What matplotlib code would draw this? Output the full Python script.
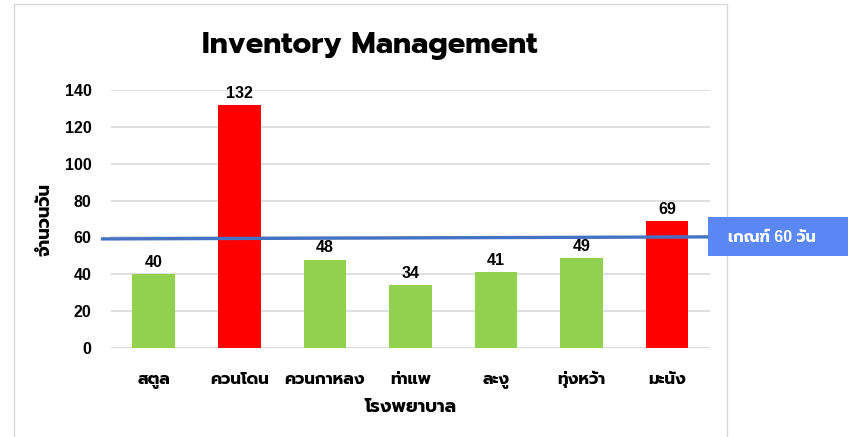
import matplotlib
matplotlib.use("Agg")
import matplotlib.pyplot as plt
from matplotlib.patches import Rectangle

# Liberation Sans for digits, Prompt picks up the Thai glyphs
plt.rcParams['font.family'] = ['Liberation Sans', 'Prompt']
plt.rcParams['font.weight'] = 'bold'

hospitals = ["สตูล", "ควนโดน", "ควนกาหลง", "ท่าแพ", "ละงู", "ทุ่งหว้า", "มะนัง"]
days = [40, 132, 48, 34, 41, 49, 69]
threshold = 60
threshold_line = [59.2, 60.3]  # the drawn line is a little tilted
threshold_label = "เกณฑ์ 60 วัน"

green = "#92D050"
red = "#FF0000"
colors = [red if d > threshold else green for d in days]

fig = plt.figure(figsize=(8.48, 4.37), dpi=100)
ax = fig.add_axes([0.131, 0.2037, 0.706, 0.5903])

# outer chart frame
fig.patches.append(Rectangle((14 / 848, -0.1), 713 / 848, 1.09, transform=fig.transFigure,
                             fill=False, edgecolor="#D9D9D9", linewidth=1))

x = range(len(hospitals))
bars = ax.bar(x, days, width=0.5, color=colors, zorder=2)
for b, d in zip(bars, days):
    ax.annotate(str(d), (b.get_x() + b.get_width() / 2, d), xytext=(0, 3),
                textcoords="offset points", ha="center", va="bottom",
                fontsize=11.5, fontweight="bold")

ax.plot([-0.6, 6.5], threshold_line, color="#4472C4", linewidth=2.4, zorder=3, clip_on=False)

ax.set_xlim(-0.5, 6.5)
ax.set_ylim(0, 140)
ax.set_yticks(range(0, 141, 20))
ax.set_xticks(list(x))
ax.set_xticklabels(hospitals)
ax.tick_params(axis="x", length=0, pad=26, labelsize=12)
for lbl in ax.get_xticklabels():
    lbl.set_verticalalignment("baseline")
ax.tick_params(axis="y", length=0, pad=14, labelsize=11.5)
ax.grid(axis="y", color="#D9D9D9", linewidth=1.2, zorder=0)
for s in ax.spines.values():
    s.set_visible(False)
ax.axhline(0, color="#D9D9D9", linewidth=1.2, zorder=1)

ax.set_ylabel("จำนวนวัน", fontsize=13, fontweight="bold")
ax.yaxis.set_label_coords(-0.097, 0.5)
ax.set_xlabel("โรงพยาบาล", fontsize=13, fontweight="bold")
ax.xaxis.set_label_coords(0.5, -0.198)
fig.text(370 / 848, 1 - 46 / 437, "Inventory Management", ha="center", va="center",
         fontsize=21, fontweight="bold", family="Prompt")

# threshold label box
fig.patches.append(Rectangle((708 / 848, 1 - 256 / 437), 145 / 848, 39 / 437,
                             transform=fig.transFigure, facecolor="#5A87F5",
                             edgecolor="none", zorder=5))
fig.text(772 / 848, 1 - 237 / 437, threshold_label, ha="center", va="center",
         color="white", fontsize=11.5, fontweight="bold", zorder=6)

fig.savefig("out.png", dpi=100)
